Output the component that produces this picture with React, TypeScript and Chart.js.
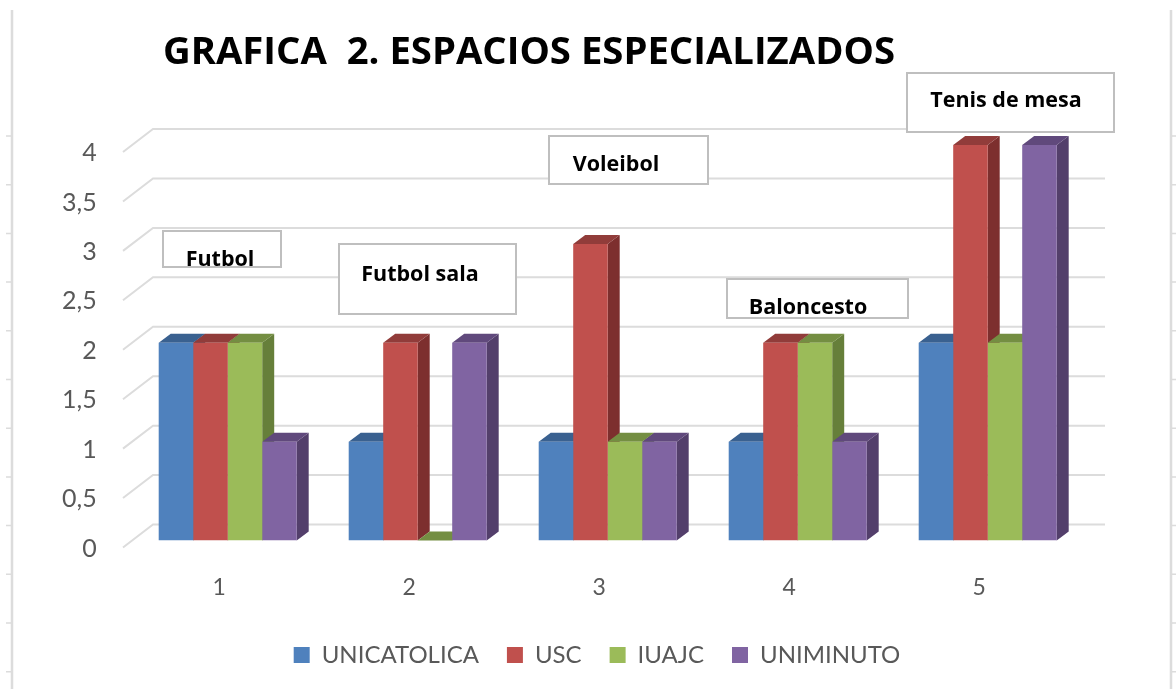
import React, { useEffect, useRef } from "react";
import { Chart, registerables } from "chart.js";

Chart.register(...registerables);

const categories = ["1", "2", "3", "4", "5"];
const unicatolica = [2, 1, 1, 1, 2];
const usc = [2, 2, 3, 2, 4];
const iuajc = [2, 0, 1, 2, 2];
const uniminuto = [1, 2, 1, 1, 4];
const seriesNames = ["UNICATOLICA", "USC", "IUAJC", "UNIMINUTO"];
const sportNames = ["Futbol", "Futbol sala", "Voleibol", "Baloncesto", "Tenis de mesa"];
const chartTitle = "GRAFICA  2. ESPACIOS ESPECIALIZADOS";

const FRONT = ["#4f81bd", "#c0504d", "#9bbb59", "#8064a2"];
const TOP = ["#3a6190", "#913c3a", "#748e42", "#60497c"];
const SIDE = ["#345578", "#7d2f2e", "#667f3a", "#533f6b"];
const GRID = "#dcdcdc";
const TEXT = "#595959";
const FONT = "Lato, 'Open Sans', sans-serif";
const BOLD_FONT = "'Open Sans', sans-serif";
const TITLE_SIZE = 38.4;

const DEPTH_X = 12;
const DEPTH_Y = 9;

// boxes: left, top, right, bottom, text centre x, text centre y
const sportBoxes = [
  [163, 231, 281, 267, 220, 260],
  [339, 244, 516, 314, 420, 275],
  [549, 136, 708, 184, 616, 165],
  [727, 279, 908, 318, 808, 308],
  [907, 73, 1114, 132, 1006, 101],
];

const depthPlugin = {
  id: "depth",
  beforeDatasetsDraw(chart: any) {
    const { ctx, scales } = chart;
    const y = scales.y;
    ctx.save();
    // frame with outer marks
    ctx.strokeStyle = GRID;
    ctx.lineWidth = 2.5;
    ctx.beginPath();
    ctx.moveTo(12, 10);
    ctx.lineTo(12, 689);
    ctx.moveTo(1171, 10);
    ctx.lineTo(1171, 689);
    ctx.stroke();
    ctx.lineWidth = 1.5;
    ctx.beginPath();
    for (let t = 136; t < 689; t += 48.7) {
      ctx.moveTo(6, t);
      ctx.lineTo(12, t);
      ctx.moveTo(1171, t);
      ctx.lineTo(1176, t);
    }
    ctx.stroke();
    // back wall gridlines with the floor diagonal
    ctx.lineWidth = 2;
    y.ticks.forEach((tick: any) => {
      const py = y.getPixelForValue(tick.value);
      ctx.beginPath();
      ctx.moveTo(123, py + 7);
      ctx.lineTo(153, py - 16);
      ctx.lineTo(1105, py - 16);
      ctx.stroke();
    });
    // sides and tops of the bars, left to right
    chart.data.datasets.forEach((_d: any, i: number) => {
      const meta = chart.getDatasetMeta(i);
      meta.data.forEach((bar: any) => {
        const l = bar.x - bar.width / 2;
        const r = bar.x + bar.width / 2;
        ctx.fillStyle = SIDE[i];
        ctx.beginPath();
        ctx.moveTo(r, bar.y);
        ctx.lineTo(r + DEPTH_X, bar.y - DEPTH_Y);
        ctx.lineTo(r + DEPTH_X, bar.base - DEPTH_Y);
        ctx.lineTo(r, bar.base);
        ctx.closePath();
        ctx.fill();
        ctx.fillStyle = TOP[i];
        ctx.beginPath();
        ctx.moveTo(l, bar.y);
        ctx.lineTo(l + DEPTH_X, bar.y - DEPTH_Y);
        ctx.lineTo(r + DEPTH_X, bar.y - DEPTH_Y);
        ctx.lineTo(r, bar.y);
        ctx.closePath();
        ctx.fill();
      });
    });
    ctx.restore();
  },
  afterDatasetsDraw(chart: any) {
    const { ctx } = chart;
    ctx.save();
    sportBoxes.forEach((b, i) => {
      ctx.fillStyle = "#ffffff";
      ctx.strokeStyle = "#bfbfbf";
      ctx.lineWidth = 2;
      ctx.fillRect(b[0], b[1], b[2] - b[0], b[3] - b[1]);
      ctx.strokeRect(b[0], b[1], b[2] - b[0], b[3] - b[1]);
      ctx.fillStyle = "#000000";
      ctx.font = `bold 21.5px ${BOLD_FONT}`;
      ctx.textAlign = "center";
      ctx.textBaseline = "middle";
      ctx.fillText(sportNames[i], b[4], b[5]);
    });
    ctx.restore();
  },
  afterLayout(chart: any) {
    // title sits over the plot, legend a little right of the page centre
    chart.titleBlock.left = 163;
    chart.titleBlock.right = 895;
    chart.legend.left = 100;
    chart.legend.right = 1094;
  },
};

export default function App() {
  const ref = useRef<HTMLCanvasElement>(null);
  useEffect(() => {
    const chart = new Chart(ref.current as any, {
      type: "bar",
      data: {
        labels: categories,
        datasets: [unicatolica, usc, iuajc, uniminuto].map((data, i) => ({
          label: seriesNames[i],
          data,
          backgroundColor: FRONT[i],
          borderWidth: 0,
          barPercentage: 1,
          categoryPercentage: 138 / 190,
        })),
      },
      options: {
        animation: false,
        responsive: false,
        layout: { padding: { left: 18, right: 93.3, top: 0, bottom: 12 } },
        plugins: {
          tooltip: { enabled: false },
          title: {
            display: true,
            text: chartTitle,
            align: "center",
            color: "#000000",
            font: { family: BOLD_FONT, size: TITLE_SIZE, weight: "bold", lineHeight: 1.2 },
            padding: { top: 53 - 0.6 * TITLE_SIZE, bottom: 92 - 0.6 * TITLE_SIZE },
          },
          legend: {
            position: "bottom",
            labels: {
              color: TEXT,
              font: { family: FONT, size: 24 },
              boxWidth: 16,
              boxHeight: 16,
              padding: 28,
            },
          },
        },
        scales: {
          x: {
            grid: { display: false, drawTicks: false },
            border: { display: false },
            ticks: { color: TEXT, font: { family: FONT, size: 23 }, labelOffset: -8.5, padding: 33 },
            afterFit(scale: any) {
              scale.height = 74.5;
            },
          },
          y: {
            min: 0,
            max: 4,
            grid: { display: false, drawTicks: false },
            border: { display: false },
            ticks: {
              stepSize: 0.5,
              color: TEXT,
              font: { family: FONT, size: 25 },
              labelOffset: 8,
              padding: 36,
              callback: (v: any) => String(v).replace(".", ","),
            },
            afterFit(scale: any) {
              scale.width = 114.7;
            },
          },
        },
      },
      plugins: [depthPlugin],
    } as any);
    return () => chart.destroy();
  }, []);
  return (
    <div style={{ position: "absolute", left: 0, top: 0, width: 1176, height: 689, background: "#ffffff" }}>
      <canvas ref={ref} width={1176} height={689} style={{ display: "block" }} />
    </div>
  );
}
